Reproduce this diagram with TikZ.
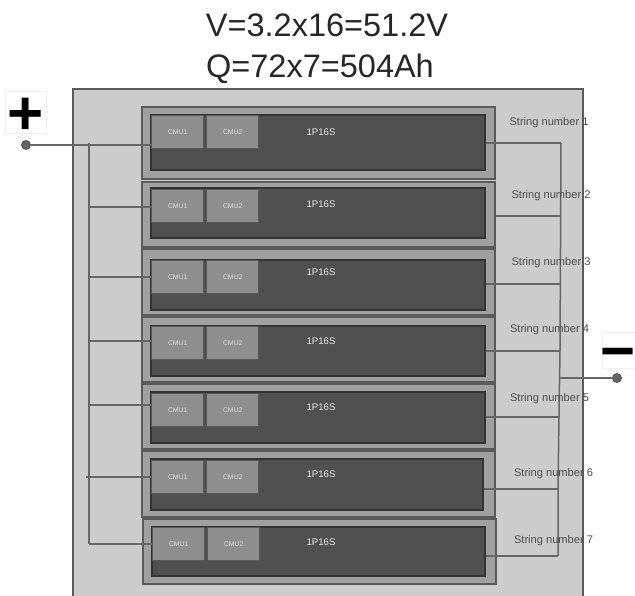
\documentclass[tikz,border=0pt]{standalone}
\usepackage{fontspec}
\usepackage{xcolor}
\usepackage{tikz}
\setmainfont{Liberation Sans}
\definecolor{packgray}{HTML}{CCCCCC}
\definecolor{rowgray}{HTML}{A0A0A0}
\definecolor{modgray}{HTML}{505050}
\definecolor{cmugray}{HTML}{8E8E8E}
\definecolor{edgegray}{HTML}{5A5A5A}
\definecolor{wiregray}{HTML}{666666}
\tikzset{
  rowbox/.style={draw=edgegray,line width=1.8pt,fill=rowgray,anchor=north west,inner sep=0pt},
  modbox/.style={draw=black!80,line width=1.7pt,fill=modgray,anchor=north west,inner sep=0pt},
  cmubox/.style={draw=black!65,line width=1.4pt,fill=cmugray,text=black!12,font=\fontsize{6.8}{7}\selectfont,
    anchor=north west,inner sep=0pt,minimum width=52pt,minimum height=33pt},
  wire/.style={wiregray,line width=1.5pt},
  term/.style={circle,draw=black!70,fill=black!60,line width=0.8pt,minimum size=9pt,inner sep=0pt},
  strlabel/.style={text=black!70,font=\fontsize{11.1}{12}\selectfont,inner sep=0pt},
  signbox/.style={draw=black!6,fill=white,line width=0.6pt,inner sep=0pt},
  titletext/.style={inner sep=0pt,font=\fontsize{32.5}{34}\selectfont,text=black!85}
}
\begin{document}
\begin{tikzpicture}[x=1pt,y=-1pt]
    \useasboundingbox (0,0) rectangle (635,596);
    \node[titletext] (title1) at (327,25) {V=3.2x16=51.2V};
    \node[titletext] (title2) at (320,69) {Q=72x7=504Ah};
    \path[draw=edgegray,line width=1.3pt,fill=packgray] (73,600) -- (73,89) -- (583,89) -- (583,600);
    % rows: number / x / y of box / height / y of module / height / width / y of cmu / y of 1P16S
    \foreach \n/\bx/\by/\bh/\my/\mh/\mw/\cy/\py in {1/141/106/74/114/57/336/115/132,2/141/181/67/187/52/336/189/204,
      3/141/248/68/259/52/336/260/272,4/141/316/67/325/52/336/326/341,5/141/383/67/391/53/336/393/407,
      6/141/450/68/458/53/334/460/474,7/142/518/67/526/51/335/527/542}{
      \node[rowbox,minimum width=353pt,minimum height=\bh pt-1.8pt] (box\n) at (\bx,\by) {};
      \node[modbox,minimum width=\mw pt-1.7pt,minimum height=\mh pt-1.7pt] (mod\n) at (\bx+9,\my) {};
      \node[cmubox] (cmuA\n) at (\bx+10,\cy) {CMU1};
      \node[cmubox] (cmuB\n) at (\bx+65,\cy) {CMU2};
      \node[text=black!8,font=\fontsize{9.6}{10}\selectfont,inner sep=0pt] (cells\n) at (321,\py) {1P16S};
    }
    \node[signbox,minimum width=41pt,minimum height=42pt] (plusbox) at (25.5,112) {};
    \node[signbox,minimum width=36pt,minimum height=36pt,anchor=west] (minusbox) at (602,350) {};
    \node[inner sep=0pt,font=\bfseries\fontsize{62}{62}\selectfont] (plus) at (26,116) {+};
    \node[inner sep=0pt,font=\bfseries\fontsize{60}{60}\selectfont] (minus) at (618.5,360) {\char"2212};
    \node[term] (pos) at (26,145) {};
    \node[term] (neg) at (617,378) {};
    % left bus
    \coordinate (busL1) at (89,145);
    \foreach \n/\ly in {2/207,3/277,4/341,5/405,6/477,7/544}{
      \coordinate (busL\n) at (89,\ly);
      \draw[wire] (busL\n) -- (cmuA\n.west |- busL\n);
    }
    \draw[wire] (pos) -- (cmuA1.west |- pos);
    \draw[wire] (89,143) -- (busL7);
    \draw[wire] (86,477) -- (busL6);
    % right bus
    \foreach \n/\rx/\ry in {1/561/143,3/560/284,4/560/351,5/559/417,6/558/489,7/558/556}{
      \coordinate (busR\n) at (\rx,\ry);
      \draw[wire] (mod\n.east |- busR\n) -- (busR\n);
    }
    \coordinate (busR2) at (560.5,216);
    \draw[wire] (box2.east |- busR2) -- (busR2);
    \draw[wire] (busR1) -- (busR4) -- (busR5) -- (busR6) -- (busR7);
    \draw[wire] (neg) -- (559,378);
    \foreach \n/\lx/\ly in {1/549/123,2/551/196,3/551/263,4/549.5/330,5/549.5/398.5,6/553.5/474,7/553.5/541}{
      \node[strlabel] (str\n) at (\lx,\ly) {String number \n};
    }
  \end{tikzpicture}
\end{document}
